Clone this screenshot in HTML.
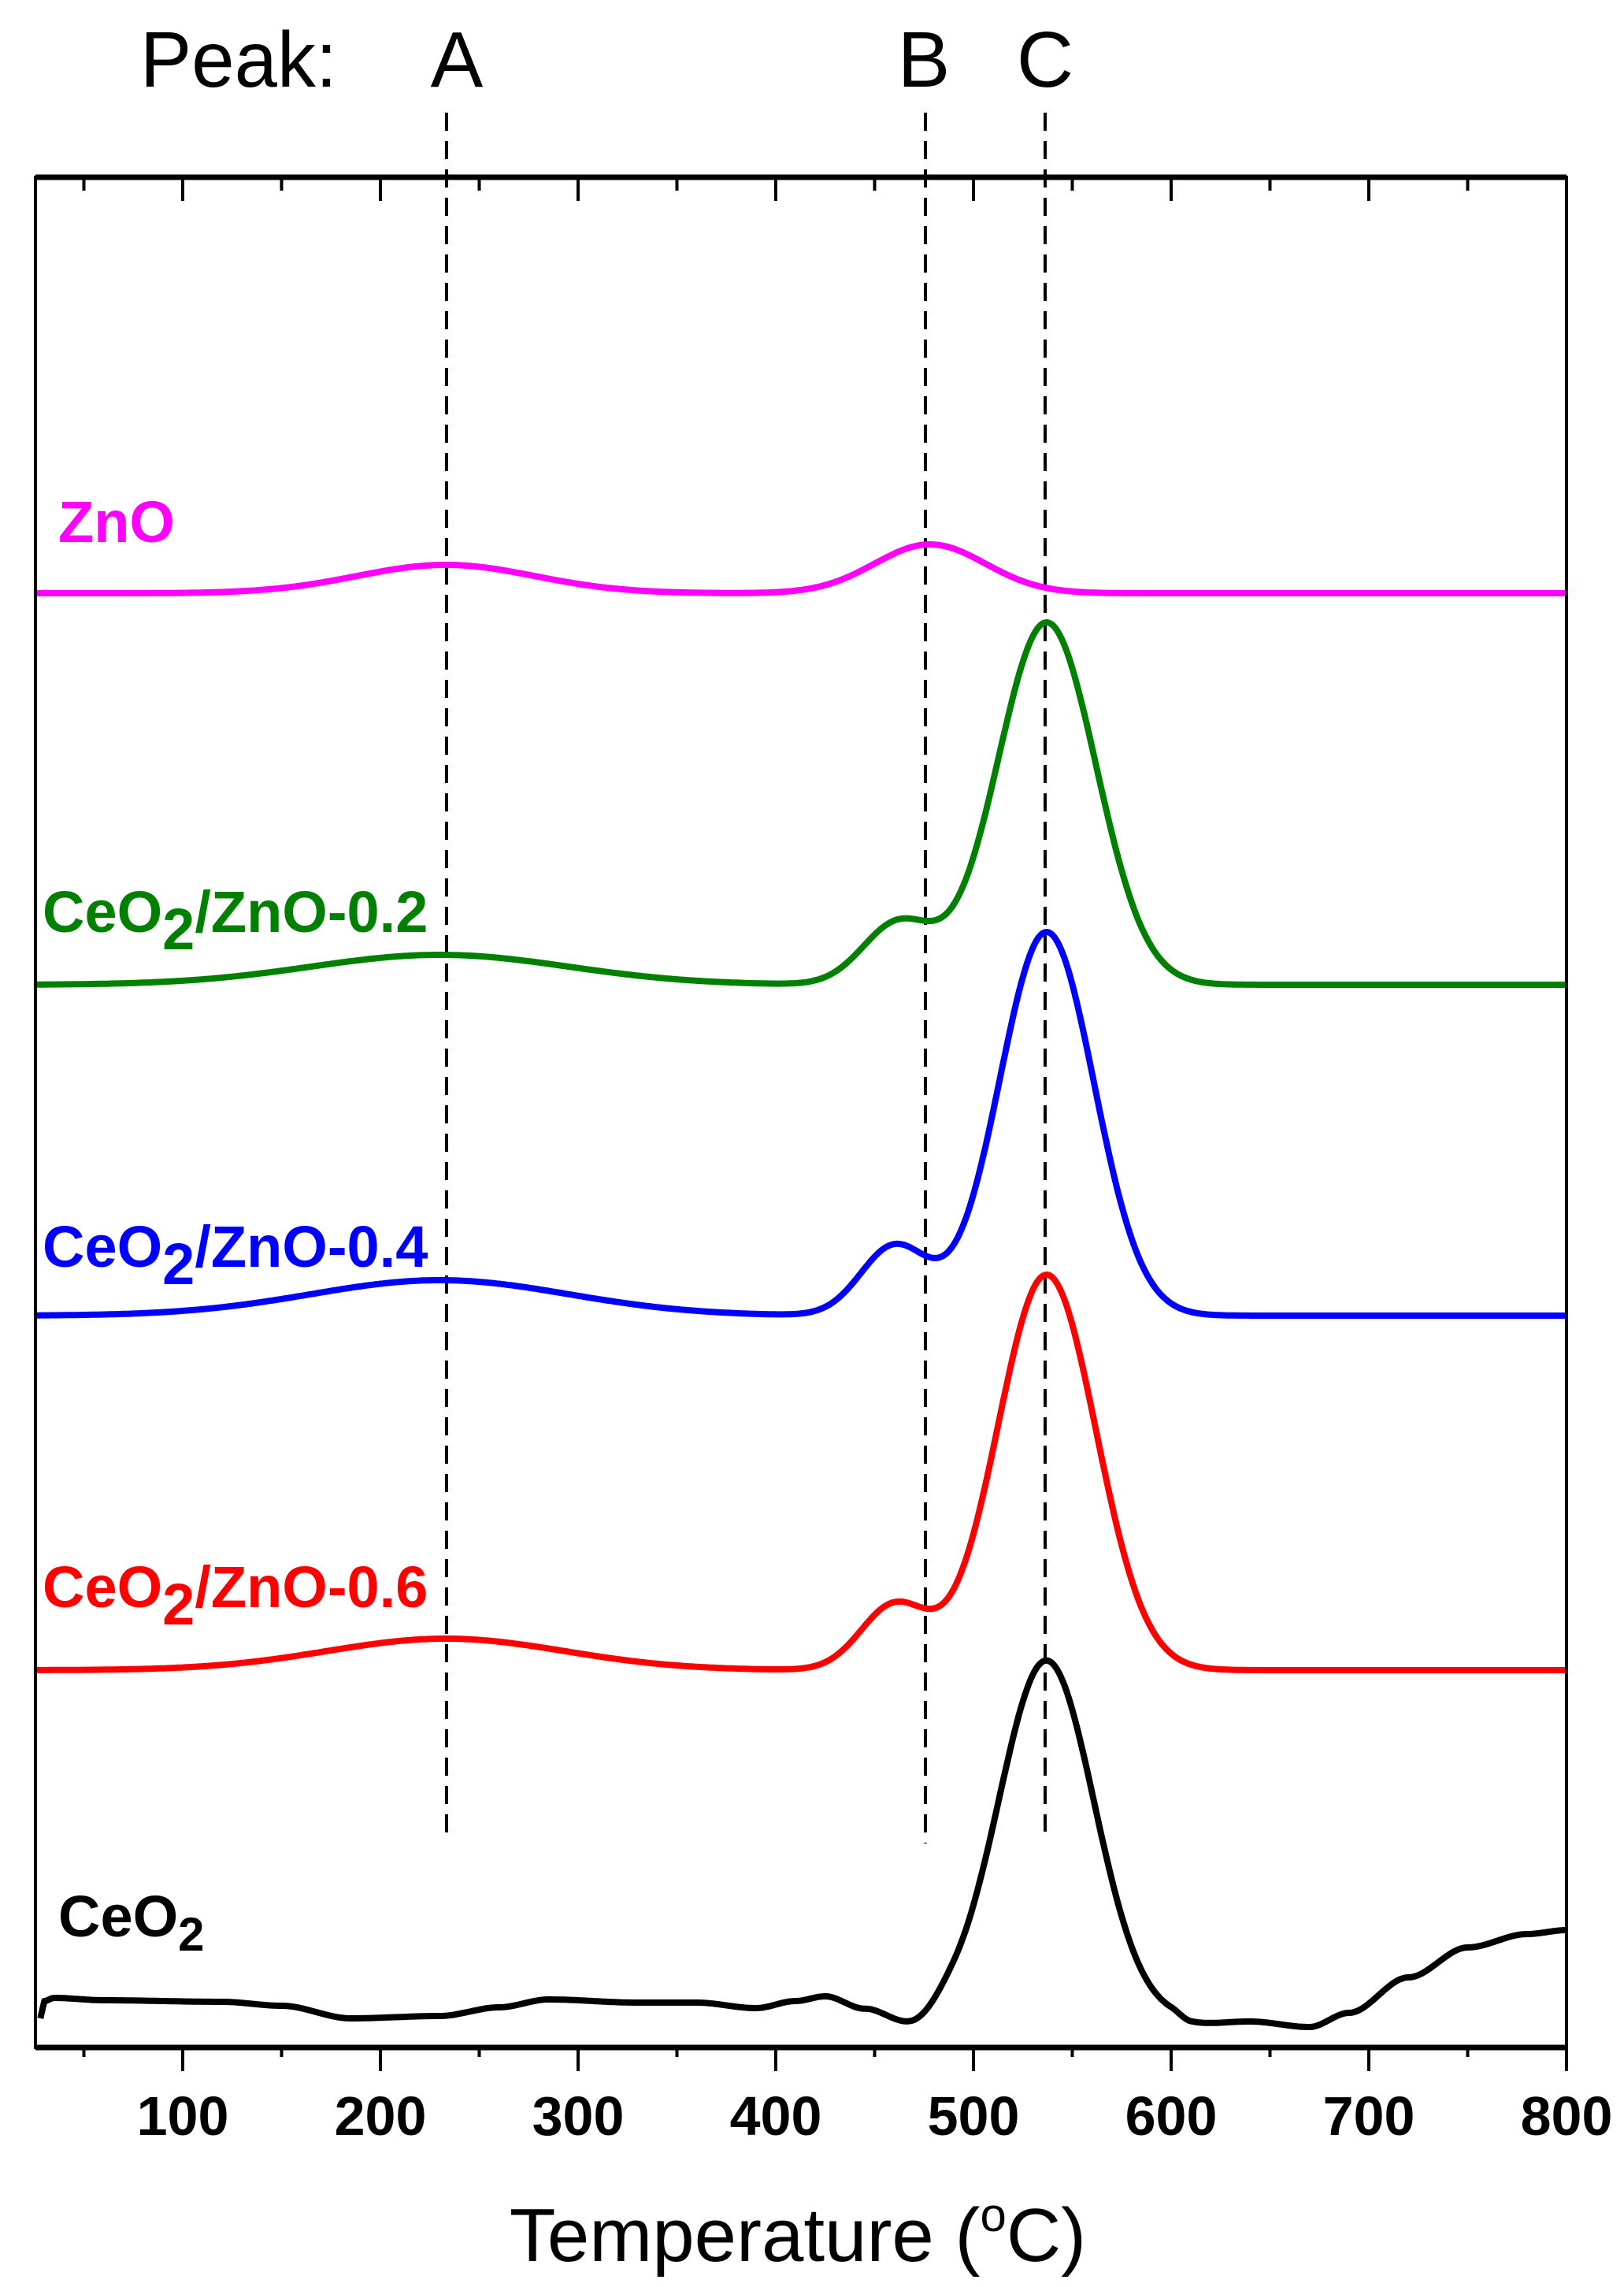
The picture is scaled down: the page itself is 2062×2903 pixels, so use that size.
<!DOCTYPE html>
<html><head><meta charset="utf-8"><style>html,body{margin:0;padding:0;background:#fff}svg{display:block}</style></head>
<body>
<svg id="s" xmlns="http://www.w3.org/2000/svg" width="2062" height="2903" viewBox="0 0 2062 2903">
<rect width="2062" height="2903" fill="#fff"/>
<g font-family="Liberation Sans, sans-serif">
<text x="178" y="110" font-size="100" textLength="250" lengthAdjust="spacingAndGlyphs">Peak:</text>
<text x="580" y="110" font-size="100" text-anchor="middle">A</text>
<text x="1173" y="110" font-size="100" text-anchor="middle">B</text>
<text x="1327" y="110" font-size="100" text-anchor="middle">C</text>
</g>
<g stroke="#000" stroke-width="4" stroke-dasharray="23,13">
<line x1="567" y1="143" x2="567" y2="2335"/>
<line x1="1175" y1="143" x2="1175" y2="2340"/>
<line x1="1327" y1="143" x2="1327" y2="2325"/>
</g>
<g id="curves" fill="none" stroke-width="8" stroke-linejoin="round"></g>
<rect x="45" y="225" width="1944" height="2374" fill="none" stroke="#000" stroke-width="4"/>
<line x1="45" y1="2599" x2="1989" y2="2599" stroke="#000" stroke-width="7"/>
<line x1="45" y1="225" x2="1989" y2="225" stroke="#000" stroke-width="7"/>
<g id="ticks" stroke="#000" stroke-width="4"></g>
<g font-family="Liberation Sans, sans-serif" font-weight="bold" font-size="70" text-anchor="middle" id="tl"></g>
<text x="1013" y="2870" font-family="Liberation Sans, sans-serif" font-size="96" text-anchor="middle">Temperature (<tspan font-size="60" dy="-38">o</tspan><tspan dy="38">C)</tspan></text>
<g font-family="Liberation Sans, sans-serif" font-weight="bold" font-size="74">
<text x="74" y="688" fill="#ff00ff">ZnO</text>
<text x="54" y="1183" fill="#008000">CeO<tspan font-size="74" dy="22">2</tspan><tspan dy="-22">/ZnO-0.2</tspan></text>
<text x="54" y="1608" fill="#0000ff">CeO<tspan font-size="74" dy="22">2</tspan><tspan dy="-22">/ZnO-0.4</tspan></text>
<text x="54" y="2040" fill="#ff0000">CeO<tspan font-size="74" dy="22">2</tspan><tspan dy="-22">/ZnO-0.6</tspan></text>
<text x="74" y="2458" fill="#000">CeO<tspan font-size="60" dy="18">2</tspan></text>
</g>
</svg>
<script>
var NS="http://www.w3.org/2000/svg";
function X(T){return 232+(T-100)*2.51;}
function g(T,m,s){return Math.exp(-0.5*Math.pow((T-m)/s,2));}
var cg=document.getElementById('curves');
function add(fn,col,t0){var d="";for(var T=t0;T<=800;T+=1){d+=(T==t0?"M":"L")+X(T).toFixed(1)+","+fn(T).toFixed(1);}
var p=document.createElementNS(NS,'path');p.setAttribute('d',d);p.setAttribute('stroke',col);cg.appendChild(p);}
add(function(T){return 753-36*g(T,233,45)-62*g(T,478,28);},"#ff00ff",26);
add(function(T){return 1250-38*g(T,230,65)-78*g(T,462,18)-460*g(T,537,25);},"#008000",26);
add(function(T){return 1670-45*g(T,230,65)-88*g(T,460,17)-487*g(T,537,24);},"#0000ff",26);
add(function(T){return 2120-40*g(T,233,60)-82*g(T,460,17)-502*g(T,537,25);},"#ff0000",26);
var pts=[[28,2562],[30,2540],[35,2536],[60,2539],[120,2541],[150,2546],[185,2562],[230,2559],[260,2548],[285,2538],[330,2542],[360,2542],[390,2549],[410,2540],[425,2534],[445,2550],[470,2573],[490,2555],[600,2562],[610,2570],[640,2566],[670,2573],[690,2555],[720,2510],[750,2472],[780,2455],[800,2450]];
function base(T){for(var i=0;i<pts.length-1;i++){if(T>=pts[i][0]&&T<=pts[i+1][0]){var t=(T-pts[i][0])/(pts[i+1][0]-pts[i][0]);t=t*t*(3-2*t);return pts[i][1]+(pts[i+1][1]-pts[i][1])*t;}}return pts[pts.length-1][1];}
add(function(T){return base(T)-450*g(T,537,24);},"#000",28);
var tk=document.getElementById('ticks'),tl=document.getElementById('tl');
for(var T=50;T<=800;T+=50){var x=X(T),maj=(T%100==0);
var l=document.createElementNS(NS,'line');l.setAttribute('x1',x);l.setAttribute('x2',x);l.setAttribute('y1',2601);l.setAttribute('y2',maj?2629:2611);tk.appendChild(l);
var l2=document.createElementNS(NS,'line');l2.setAttribute('x1',x);l2.setAttribute('x2',x);l2.setAttribute('y1',227);l2.setAttribute('y2',maj?255:242);tk.appendChild(l2);
if(maj){var t=document.createElementNS(NS,'text');t.setAttribute('x',x);t.setAttribute('y',2710);t.textContent=T;tl.appendChild(t);}}
</script>
</body></html>
